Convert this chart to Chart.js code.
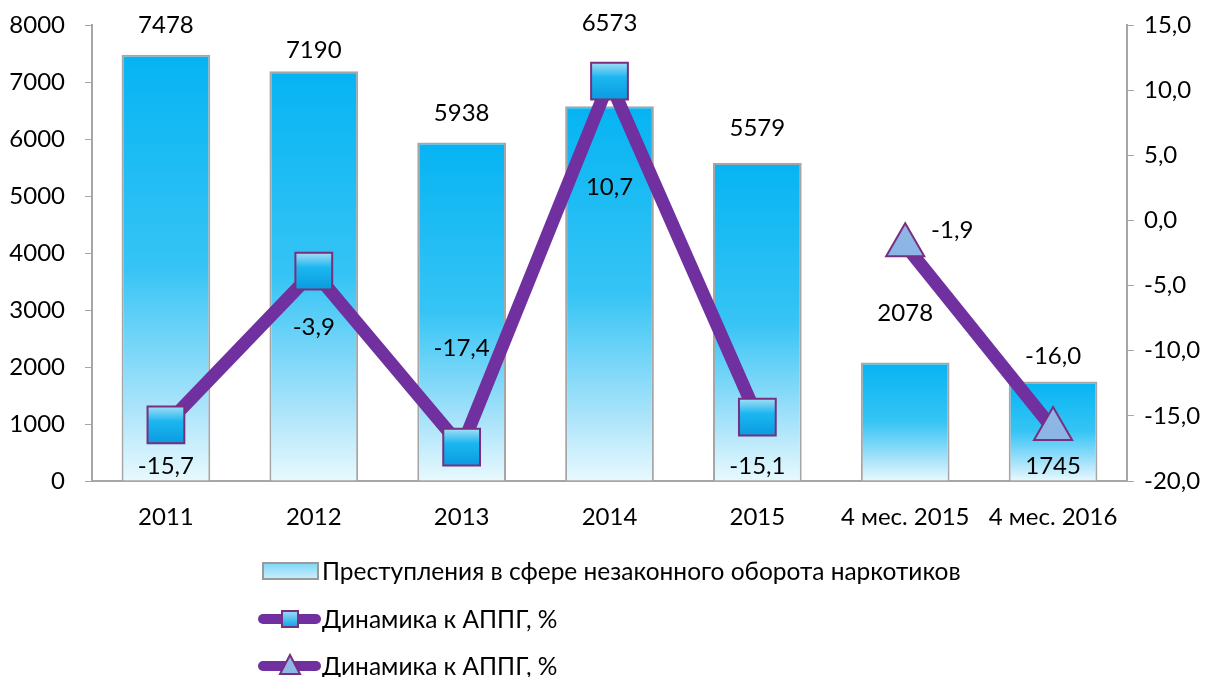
<!DOCTYPE html>
<html>
<head>
<meta charset="utf-8">
<script src="https://cdn.jsdelivr.net/npm/chart.js@4"></script>
<style>
  html, body { margin: 0; padding: 0; background: #fff; }
  #wrap { width: 1208px; height: 677px; position: relative; }
</style>
</head>
<body>
<div id="wrap"><canvas id="chart"></canvas></div>
<script>
const categories = ['2011', '2012', '2013', '2014', '2015', '4 мес. 2015', '4 мес. 2016'];
const crimes = [7478, 7190, 5938, 6573, 5579, 2078, 1745];
const dynYears = [-15.7, -3.9, -17.4, 10.7, -15.1, null, null];
const dynMonths = [null, null, null, null, null, -1.9, -16.0];

const barName = 'Преступления в сфере незаконного оборота наркотиков';
const lineName = 'Динамика к АППГ, %';

const FONT = 'Lato, "Open Sans", sans-serif';
const FSIZE = 24;
const PURPLE = '#7030A0';

// label nudges (px) relative to the mark
const barLabelNudge = [[0, -29], [0, -21], [0, -29], [0, -83], [0, -35], [0, -49], [0, 85]];
const lineLabelNudge = [[0, 41], [0, 56], [0, -99], [0, 106], [0, 49], [47, -15], [0, -73]];

function barFill(ctx) {
  const chart = ctx.chart;
  const ys = chart.scales.y;
  if (!ys || ctx.raw == null) return '#1BB8F0';
  const top = ys.getPixelForValue(ctx.raw);
  const base = ys.getPixelForValue(0);
  if (!isFinite(top) || !isFinite(base) || top === base) return '#1BB8F0';
  const g = chart.ctx.createLinearGradient(0, top, 0, base);
  g.addColorStop(0, '#06B4F3');
  g.addColorStop(0.5, '#36C4F5');
  g.addColorStop(0.82, '#A8E3FA');
  g.addColorStop(1, '#E8F9FE');
  return g;
}

function markerFill(ctx) {
  const chart = ctx.chart;
  const ys = chart.scales.y1;
  if (!ys || ctx.raw == null) return '#1BB6F0';
  const y = ys.getPixelForValue(ctx.raw);
  if (!isFinite(y)) return '#1BB6F0';
  const g = chart.ctx.createLinearGradient(0, y - 18, 0, y + 18);
  g.addColorStop(0, '#9FDDF6');
  g.addColorStop(0.4, '#1BB6F0');
  g.addColorStop(1, '#0A9CE0');
  return g;
}

const labelPlugin = {
  id: 'labels',
  afterDatasetsDraw(chart) {
    const c = chart.ctx;
    c.save();
    c.font = FSIZE + 'px ' + FONT;
    c.fillStyle = '#000';
    c.textAlign = 'center';
    c.textBaseline = 'middle';
    chart.getDatasetMeta(0).data.forEach((el, i) => {
      const n = barLabelNudge[i];
      c.fillText(String(crimes[i]), el.x + n[0], el.y + n[1]);
    });
    [1, 2].forEach(di => {
      const vals = chart.data.datasets[di].data;
      chart.getDatasetMeta(di).data.forEach((el, i) => {
        if (vals[i] == null) return;
        const n = lineLabelNudge[i];
        c.fillText(vals[i].toFixed(1).replace('.', ','), el.x + n[0], el.y + n[1]);
      });
    });
    c.restore();
  }
};

const legendPlugin = {
  id: 'sideLegend',
  afterDraw(chart) {
    const c = chart.ctx;
    c.save();
    c.font = '24.5px ' + FONT;
    c.fillStyle = '#000';
    c.textBaseline = 'middle';
    c.textAlign = 'left';
    // bar entry
    let y = 571;
    const g = c.createLinearGradient(0, y - 8, 0, y + 8);
    g.addColorStop(0, '#7FD6F6');
    g.addColorStop(1, '#C9F0FC');
    c.fillStyle = g;
    c.fillRect(263, y - 8, 55, 16);
    c.strokeStyle = '#9A9A9A';
    c.lineWidth = 2;
    c.strokeRect(263, y - 8, 55, 16);
    c.fillStyle = '#000';
    c.fillText(barName, 322, y + 1);
    // line entries
    [619, 666].forEach((ly, k) => {
      c.strokeStyle = PURPLE;
      c.lineWidth = 10;
      c.lineCap = 'round';
      c.beginPath();
      c.moveTo(263, ly);
      c.lineTo(316, ly);
      c.stroke();
      c.lineWidth = 2;
      c.strokeStyle = '#7A2E7E';
      const mg = c.createLinearGradient(0, ly - 8, 0, ly + 8);
      mg.addColorStop(0, '#9FDDF6');
      mg.addColorStop(1, '#0AA4E6');
      c.fillStyle = mg;
      c.beginPath();
      if (k === 0) {
        c.rect(282, ly - 8, 16, 16);
      } else {
        c.fillStyle = '#8FB8E6';
        c.moveTo(290, ly - 11);
        c.lineTo(300, ly + 8);
        c.lineTo(280, ly + 8);
        c.closePath();
      }
      c.fill();
      c.stroke();
      c.fillStyle = '#000';
      c.fillText(lineName, 322, ly + 1);
    });
    c.restore();
  }
};

new Chart(document.getElementById('chart'), {
  data: {
    labels: categories,
    datasets: [
      {
        type: 'bar',
        label: barName,
        data: crimes,
        yAxisID: 'y',
        backgroundColor: barFill,
        borderColor: '#A6A6A6',
        borderWidth: 2,
        barPercentage: 0.6,
        categoryPercentage: 1,
        order: 3
      },
      {
        type: 'line',
        label: lineName,
        data: dynYears,
        yAxisID: 'y1',
        borderColor: PURPLE,
        borderWidth: 13,
        pointStyle: 'rect',
        pointRadius: 26,
        pointBackgroundColor: markerFill,
        pointBorderColor: '#7A2E7E',
        pointBorderWidth: 2,
        spanGaps: false,
        clip: false,
        order: 1
      },
      {
        type: 'line',
        label: lineName,
        data: dynMonths,
        yAxisID: 'y1',
        borderColor: PURPLE,
        borderWidth: 13,
        pointStyle: 'triangle',
        pointRadius: 22,
        pointBackgroundColor: '#8DB6E6',
        pointBorderColor: '#7A2E7E',
        pointBorderWidth: 2,
        clip: false,
        order: 2
      }
    ]
  },
  options: {
    responsive: true,
    maintainAspectRatio: false,
    animation: false,
    layout: { autoPadding: false, padding: { top: 25, left: 0, right: 0, bottom: 0 } },
    plugins: {
      legend: { display: false },
      tooltip: { enabled: false }
    },
    scales: {
      x: {
        grid: { display: true, drawOnChartArea: false, drawTicks: false, color: '#A6A6A6' },
        border: { color: '#A6A6A6', width: 2 },
        ticks: { font: { family: FONT, size: FSIZE }, color: '#000', padding: 22, maxRotation: 0 },
        afterFit(s) { s.height = 196; s.paddingLeft = 0; s.paddingRight = 0; }
      },
      y: {
        position: 'left',
        min: 0,
        max: 8000,
        grid: { drawOnChartArea: false, tickLength: 7, color: '#A6A6A6' },
        border: { color: '#A6A6A6', width: 2 },
        ticks: {
          stepSize: 1000,
          font: { family: FONT, size: FSIZE },
          color: '#000',
          padding: 20,
          callback: v => String(v)
        },
        afterFit(s) { s.width = 92; s.paddingTop = 0; s.paddingBottom = 0; }
      },
      y1: {
        position: 'right',
        min: -20,
        max: 15,
        grid: { drawOnChartArea: false, tickLength: 7, color: '#A6A6A6' },
        border: { color: '#A6A6A6', width: 2 },
        ticks: {
          stepSize: 5,
          font: { family: FONT, size: FSIZE },
          color: '#000',
          padding: 10,
          callback: v => v.toFixed(1).replace('.', ',')
        },
        afterFit(s) { s.width = 81; s.paddingTop = 0; s.paddingBottom = 0; }
      }
    }
  },
  plugins: [labelPlugin, legendPlugin]
});
</script>
</body>
</html>
